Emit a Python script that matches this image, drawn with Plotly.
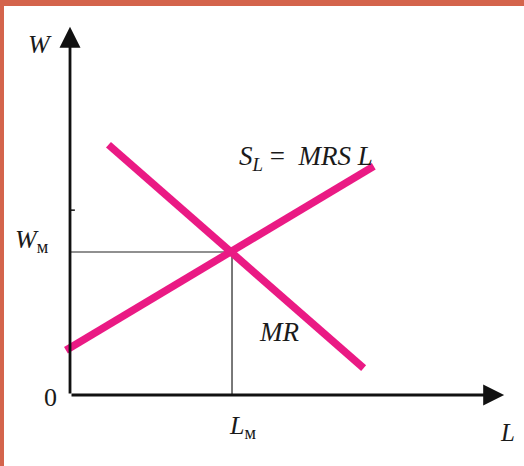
import plotly.graph_objects as go

# labour market diagram: supply S_L = MRS L against marginal revenue MR
supply_L = [-0.1, 7.5]
supply_W = [1.25, 6.4]
mr_L = [0.95, 7.25]
mr_W = [7.0, 0.75]
eq_L = 4.0
eq_W = 4.0
axis_max_L = 10.72
axis_max_W = 10.3

PINK = '#ea1a84'
BORDER = '#d4644c'
SERIF = 'Liberation Serif, Times New Roman, serif'

fig = go.Figure()

# guide lines to the equilibrium point
fig.add_trace(go.Scatter(
    x=[0, eq_L, eq_L], y=[eq_W, eq_W, 0],
    mode='lines', line=dict(color='#222222', width=1.2),
    hoverinfo='skip', showlegend=False
))

fig.add_trace(go.Scatter(
    x=supply_L, y=supply_W, mode='lines',
    line=dict(color=PINK, width=7.5), name='S_L', showlegend=False
))
fig.add_trace(go.Scatter(
    x=mr_L, y=mr_W, mode='lines',
    line=dict(color=PINK, width=7.5), name='MR', showlegend=False
))

# axes drawn as arrows
for x, y in [(axis_max_L, 0), (0, axis_max_W)]:
    fig.add_annotation(
        x=x, y=y, ax=0, ay=0, xref='x', yref='y', axref='x', ayref='y',
        showarrow=True, arrowhead=2, arrowsize=1.5, arrowwidth=2.8,
        arrowcolor='#111111', text=''
    )

# small tick on the W axis
fig.add_shape(type='line', x0=0, x1=0.12, y0=5.17, y1=5.17,
              line=dict(color='#111111', width=1.5))

labels = [
    (-0.75, 9.79, '<i>W</i>', 26),
    (-0.94, 4.31, '<i>W</i><sub>м</sub>', 26),
    (-0.47, -0.08, '0', 26),
    (4.27, -0.9, '<i>L</i><sub>м</sub>', 26),
    (10.81, -1.06, '<i>L</i>', 25),
    (5.83, 6.63, '<i>S<sub>L</sub></i>&nbsp;=&nbsp; <i>MRS L</i>', 27),
    (5.16, 1.76, '<i>MR</i>', 27),
]
for x, y, t, s in labels:
    fig.add_annotation(x=x, y=y, text=t, showarrow=False,
                       font=dict(family=SERIF, size=s, color='#1a1a1a'))

fig.update_layout(
    width=524, height=466,
    margin=dict(l=4, r=0, t=6, b=0),
    paper_bgcolor=BORDER,
    plot_bgcolor='white',
    xaxis=dict(range=[-1.63, 11.21], visible=False, fixedrange=True),
    yaxis=dict(range=[-1.986, 10.88], visible=False, fixedrange=True),
)

fig.write_html("out.html", config={'displayModeBar': False},
               post_script="document.body.style.margin='0';")
